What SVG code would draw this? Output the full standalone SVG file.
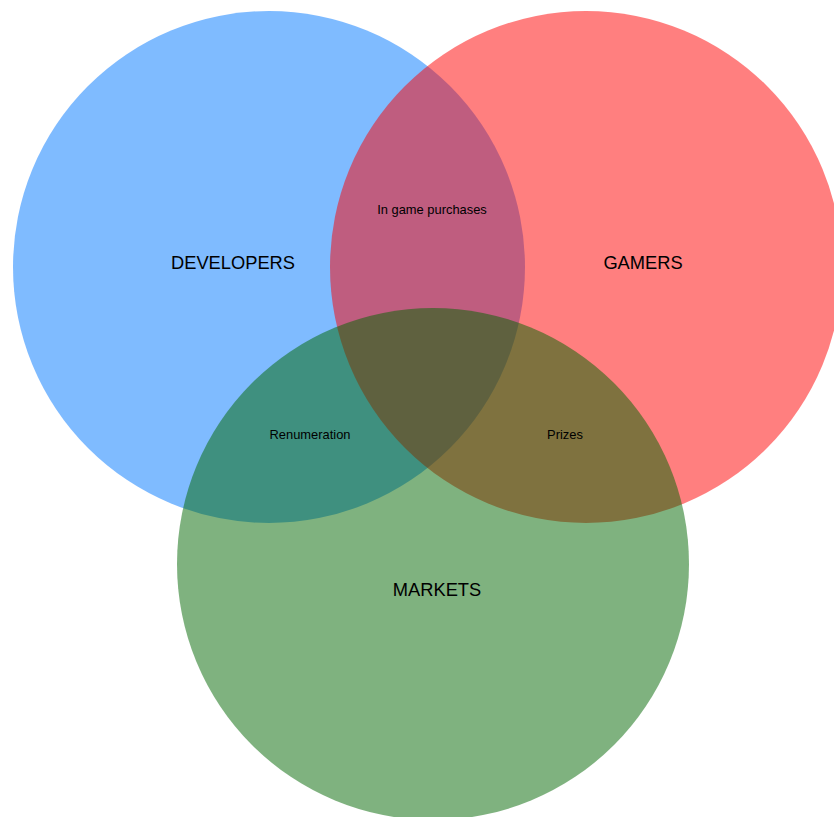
<svg xmlns="http://www.w3.org/2000/svg" width="834" height="817" viewBox="0 0 834 817">
<style>
.c{fill-opacity:0.5;stroke:none}
.big{font-family:"Liberation Sans",Arial,sans-serif;font-size:18.3px;fill:#000;text-anchor:middle;dominant-baseline:central}
.small{font-family:"Liberation Sans",Arial,sans-serif;font-size:12.9px;fill:#000;text-anchor:middle;dominant-baseline:central}
</style>
<rect width="834" height="817" fill="#ffffff"/>
<g id="developers"><circle class="c" cx="269" cy="267" r="256" fill="#0077FF"/></g>
<g id="gamers"><circle class="c" cx="586" cy="267" r="256" fill="#FF0000"/></g>
<g id="markets"><circle class="c" cx="433" cy="564" r="256" fill="#006600"/></g>
<g id="connectors"></g>
<g id="labels">
<text class="big" x="233" y="262">DEVELOPERS</text>
<text class="big" x="643" y="262">GAMERS</text>
<text class="big" x="437" y="589">MARKETS</text>
<text class="small" x="432" y="209">In game purchases</text>
<text class="small" x="310" y="434">Renumeration</text>
<text class="small" x="565" y="434">Prizes</text>
</g>
</svg>
